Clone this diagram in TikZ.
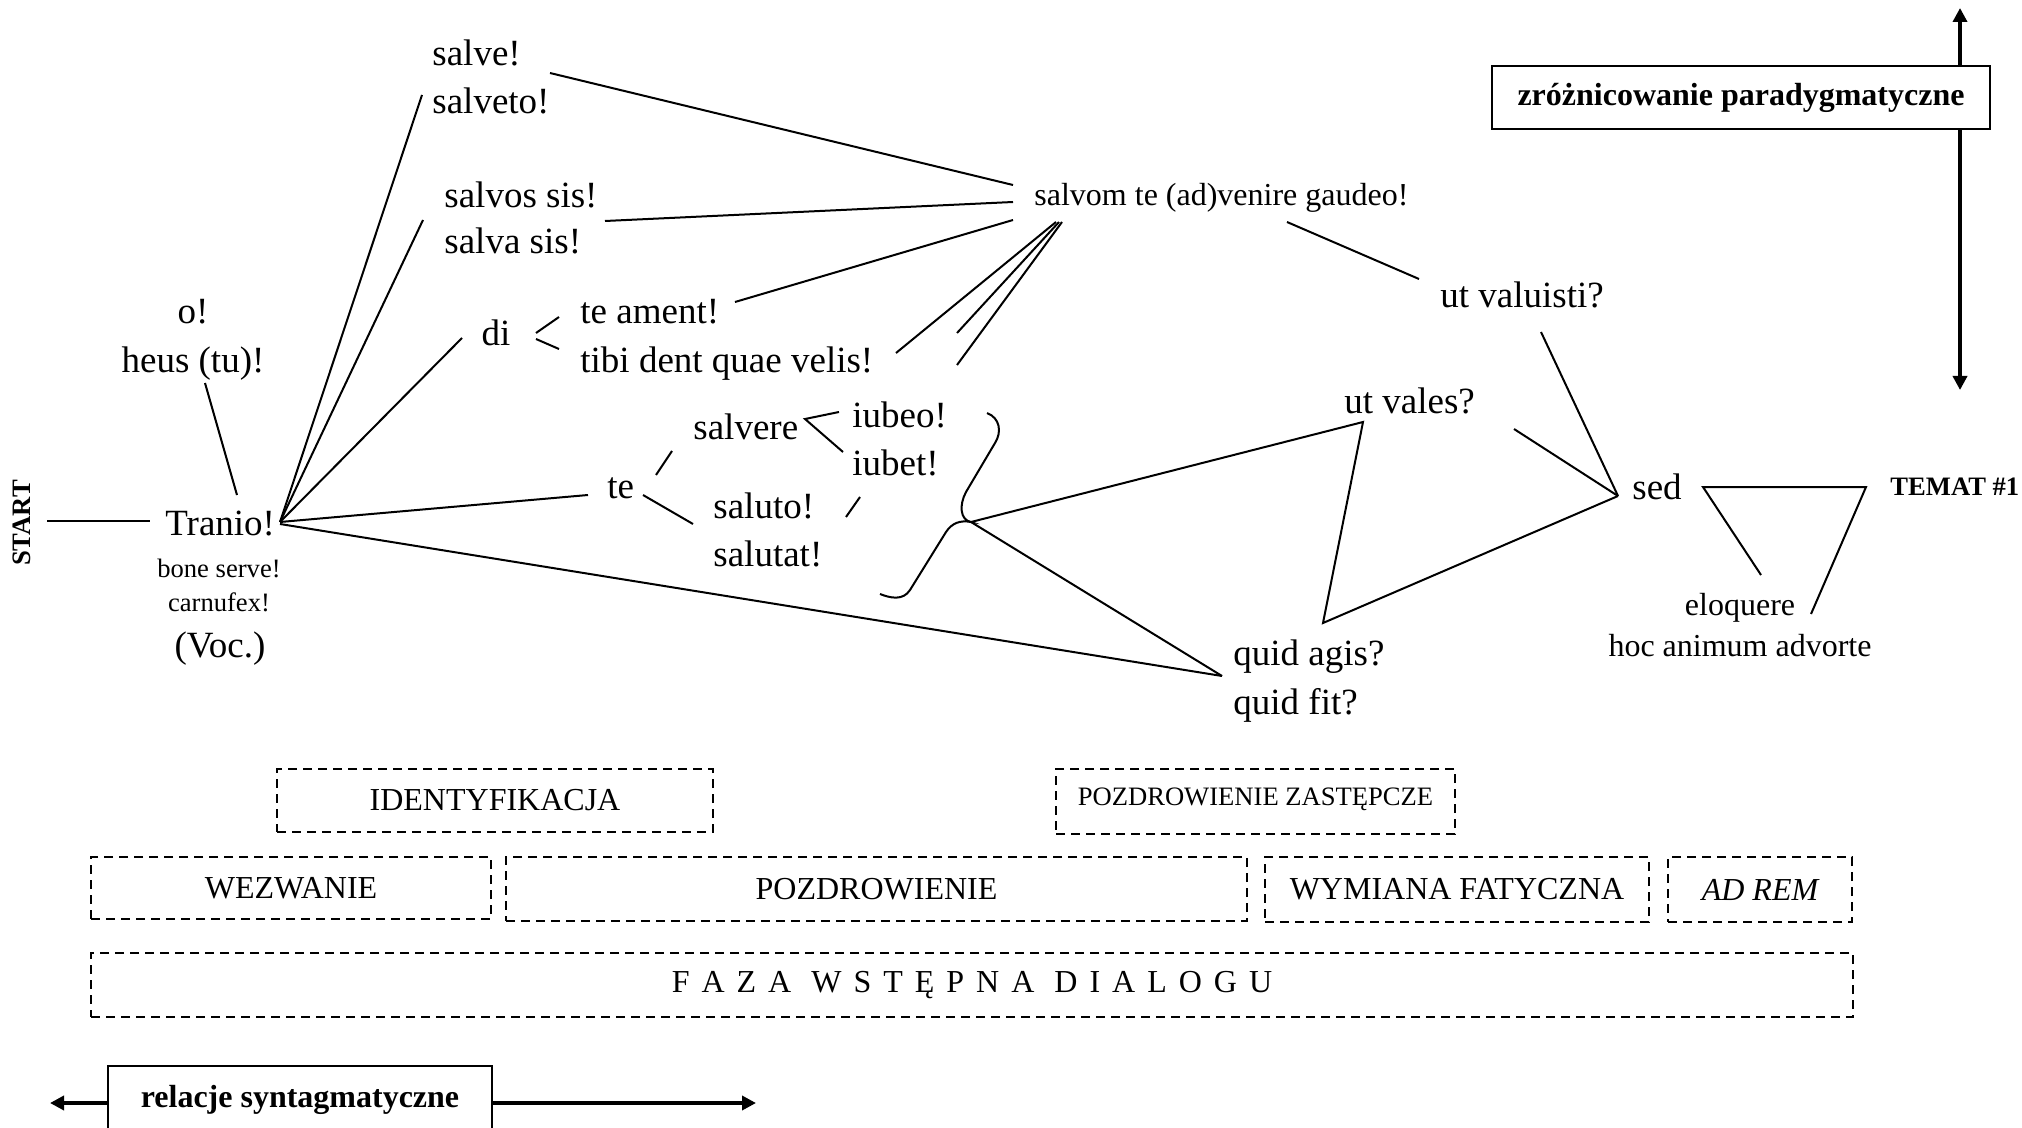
\documentclass[tikz,border=0pt]{standalone}
\usepackage{fontspec}
\setmainfont{Liberation Serif}
\usetikzlibrary{arrows.meta}
\newcommand{\lsp}{\hspace{6pt}}
\newcommand{\wsp}{\hspace{10pt}}
\begin{document}
\begin{tikzpicture}[x=0.5pt,y=-0.5pt,
  lbl/.style={inner sep=0pt, font=\fontsize{18.5}{20}\selectfont},
  lblm/.style={inner sep=0pt, font=\fontsize{16}{18}\selectfont},
  lbls/.style={inner sep=0pt, font=\fontsize{13.3}{15}\selectfont},
  lblb/.style={inner sep=0pt, font=\fontsize{13.3}{15}\selectfont\bfseries},
  link/.style={line width=1pt},
  phase/.style={draw, line width=0.75pt, dash pattern=on 4.5pt off 3pt, inner sep=0pt,
    font=\fontsize{16}{18}\selectfont},
  axis/.style={line width=2pt, {Triangle[length=7pt,width=7pt]}-{Triangle[length=7pt,width=7pt]}},
  axisbox/.style={draw, line width=1pt, fill=white, inner sep=0pt,
    font=\fontsize{16}{18}\selectfont\bfseries}
]
\useasboundingbox (0,0) rectangle (2022,1128);

% ---------- words of the greeting network ----------
\node[lblb, rotate=90] (start) at (22,523) {START};
\node[lbl, anchor=mid west] (tranio) at (165,531) {Tranio!};
\node[lbls, anchor=mid] (bone) at (219,573) {bone serve!};
\node[lbls, anchor=mid] (carn) at (219,607) {carnufex!};
\node[lbl, anchor=mid] (voc) at (220,653) {(Voc.)};
\node[lbl, anchor=mid] (o) at (193,319) {o!};
\node[lbl, anchor=mid] (heus) at (193,368) {heus (tu)!};

\node[lbl, anchor=mid west] (salve) at (432,61) {salve!};
\node[lbl, anchor=mid west] (salveto) at (432,109) {salveto!};
\node[lbl, anchor=mid west] (salvos) at (444,203) {salvos sis!};
\node[lbl, anchor=mid west] (salva) at (444,249) {salva sis!};
\node[lbl, anchor=mid] (di) at (496,341) {di};
\node[lbl, anchor=mid west] (ament) at (580,319) {te ament!};
\node[lbl, anchor=mid west] (tibi) at (580,368) {tibi dent quae velis!};

\node[lbl, anchor=mid west] (te) at (607,494) {te};
\node[lbl, anchor=mid west] (salvere) at (693,435) {salvere};
\node[lbl, anchor=mid west] (iubeo) at (852,423) {iubeo!};
\node[lbl, anchor=mid west] (iubet) at (852,471) {iubet!};
\node[lbl, anchor=mid west] (saluto) at (713,514) {saluto!};
\node[lbl, anchor=mid west] (salutat) at (713,562) {salutat!};

\node[lblm, anchor=mid west] (gaudeo) at (1034,201) {salvom te (ad)venire gaudeo!};
\node[lbl, anchor=mid west] (valuisti) at (1440,303) {ut valuisti?};
\node[lbl, anchor=mid west] (vales) at (1344,409) {ut vales?};
\node[lbl, anchor=mid west] (agis) at (1233,661) {quid agis?};
\node[lbl, anchor=mid west] (fit) at (1233,710) {quid fit?};
\node[lbl, anchor=mid west] (sed) at (1632,495) {sed};
\node[lblb, anchor=mid west] (temat) at (1890,491) {TEMAT \#1};
\node[lblm, anchor=mid] (eloq) at (1740,611) {eloquere};
\node[lblm, anchor=mid] (hoc) at (1740,652) {hoc animum advorte};

% ---------- connector end points ----------
\coordinate (startR) at (47,521);
\coordinate (tranL) at (150,521);
\coordinate (heusB) at (205,383);
\coordinate (tranT) at (237,495);
\coordinate (hub) at (280,522);
\coordinate (hubB) at (280,524);
\coordinate (salvetoL) at (422,95);
\coordinate (salvosL) at (423,220);
\coordinate (diL) at (462,338);
\coordinate (teL) at (588,495);
\coordinate (agisL) at (1222,676);
\coordinate (diA) at (559,317);
\coordinate (diB) at (536,333);
\coordinate (diC) at (536,339);
\coordinate (diD) at (559,349);
\coordinate (salveR) at (550,73);
\coordinate (salvosR) at (605,221);
\coordinate (amentR) at (735,302);
\coordinate (tibiR) at (896,353);
\coordinate (extraA) at (957,333);
\coordinate (extraB) at (957,365);
\coordinate (gA) at (1013,185);
\coordinate (gB) at (1013,202);
\coordinate (gC) at (1013,220);
\coordinate (gD) at (1056,222);
\coordinate (gE) at (1059,222);
\coordinate (gF) at (1062,222);
\coordinate (gR) at (1287,222);
\coordinate (valuistiL) at (1419,279);
\coordinate (teU) at (656,475);
\coordinate (salvereL) at (672,451);
\coordinate (teD) at (643,495);
\coordinate (salutoL) at (693,524);
\coordinate (angA) at (839,412);
\coordinate (angV) at (805,419);
\coordinate (angB) at (843,452);
\coordinate (slashA) at (860,497);
\coordinate (slashB) at (846,517);
\coordinate (brTop) at (987,413);
\coordinate (brTip) at (971,522);
\coordinate (brEnd) at (880,594);
\coordinate (valesApex) at (1363,422);
\coordinate (agisTop) at (1323,623);
\coordinate (sedL) at (1618,496);
\coordinate (valesR) at (1514,429);
\coordinate (valuistiB) at (1541,332);
\coordinate (trapL) at (1703,487);
\coordinate (trapR) at (1866,487);
\coordinate (eloqT) at (1761,575);
\coordinate (hocT) at (1811,614);

% ---------- connectors ----------
\draw[link] (startR) -- (tranL);
\draw[link] (heusB) -- (tranT);
\draw[link] (salvetoL) -- (hub);
\draw[link] (salvosL) -- (hub);
\draw[link] (diL) -- (hub);
\draw[link] (hub) -- (teL);
\draw[link] (hubB) -- (agisL);
\draw[link] (diA) -- (diB);
\draw[link] (diC) -- (diD);
\draw[link] (salveR) -- (gA);
\draw[link] (salvosR) -- (gB);
\draw[link] (amentR) -- (gC);
\draw[link] (tibiR) -- (gD);
\draw[link] (extraA) -- (gE);
\draw[link] (extraB) -- (gF);
\draw[link] (gR) -- (valuistiL);
\draw[link] (teU) -- (salvereL);
\draw[link] (teD) -- (salutoL);
\draw[link] (angA) -- (angV) -- (angB);
\draw[link] (slashA) -- (slashB);
\draw[link] (brTop) .. controls (1000,418) and (1002,432) .. (995,443)
  -- (966,492) .. controls (959,505) and (960,520) .. (brTip)
  .. controls (960,520) and (952,523) .. (946,532)
  -- (910,590) .. controls (903,601) and (890,598) .. (brEnd);
\draw[link] (brTip) -- (valesApex) -- (agisTop) -- (sedL);
\draw[link] (brTip) -- (agisL);
\draw[link] (valesR) -- (sedL);
\draw[link] (valuistiB) -- (sedL);
\draw[link] (eloqT) -- (trapL) -- (trapR) -- (hocT);

% ---------- phases of the dialogue ----------
\node[phase, minimum width=218pt, minimum height=31.5pt] (ident) at (495,800.5) {IDENTYFIKACJA};
\node[phase, minimum width=199.5pt, minimum height=32.5pt] (zast) at (1255.5,801.5) {};
\node[lbls, anchor=center] (zastT) at (1255.5,799) {POZDROWIENIE ZASTĘPCZE};
\node[phase, minimum width=200pt, minimum height=31pt] (wezw) at (291,888) {WEZWANIE};
\node[phase, minimum width=370.5pt, minimum height=32pt] (pozd) at (876.5,889) {POZDROWIENIE};
\node[phase, minimum width=192pt, minimum height=32.5pt] (wym) at (1457,889.5) {WYMIANA FATYCZNA};
\node[phase, minimum width=92pt, minimum height=32.5pt] (adrem) at (1760,889.5) {\itshape AD REM};
\node[phase, minimum width=881pt, minimum height=32pt] (faza) at (972,985)
  {F\lsp A\lsp Z\lsp A\wsp W\lsp S\lsp T\lsp Ę\lsp P\lsp N\lsp A\wsp D\lsp I\lsp A\lsp L\lsp O\lsp G\lsp U};

% ---------- axes ----------
\coordinate (paraTop) at (1960,8);
\coordinate (paraBot) at (1960,390);
\draw[axis] (paraTop) -- (paraBot);
\node[axisbox, minimum width=249pt, minimum height=31.5pt] (para) at (1741,97.5) {zróżnicowanie paradygmatyczne};

\coordinate (syntL) at (50,1103);
\coordinate (syntR) at (756,1103);
\draw[axis] (syntL) -- (syntR);
\node[axisbox, minimum width=192pt, minimum height=45pt] (synt) at (300,1111) {};
\node[inner sep=0pt, font=\fontsize{16}{18}\selectfont\bfseries] (syntT) at (300,1100) {relacje syntagmatyczne};
\end{tikzpicture}
\end{document}
